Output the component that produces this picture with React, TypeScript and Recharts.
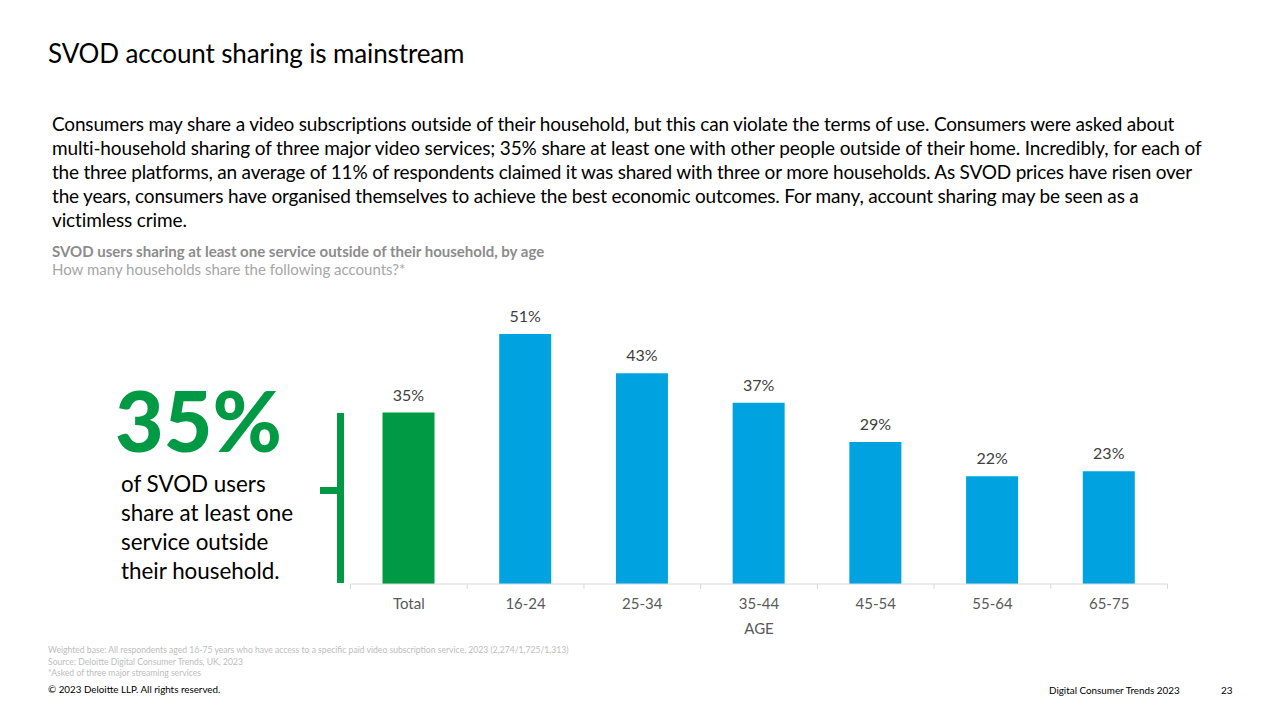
import React from "react";
import { BarChart, Bar, XAxis, YAxis, Cell, LabelList } from "recharts";

const categories = ["Total", "16-24", "25-34", "35-44", "45-54", "55-64", "65-75"];
const values = [35, 51, 43, 37, 29, 22, 23];
const barColors = ["#009A44", "#00A3E0", "#00A3E0", "#00A3E0", "#00A3E0", "#00A3E0", "#00A3E0"];
const rows = categories.map((age, i) => ({ age, share: values[i], fill: barColors[i] }));

const paragraphLines = [
  "Consumers may share a video subscriptions outside of their household, but this can violate the terms of use. Consumers were asked about",
  "multi-household sharing of three major video services; 35% share at least one with other people outside of their home. Incredibly, for each of",
  "the three platforms, an average of 11% of respondents claimed it was shared with three or more households. As SVOD prices have risen over",
  "the years, consumers have organised themselves to achieve the best economic outcomes. For many, account sharing may be seen as a",
  "victimless crime.",
];
const paragraphSpacing = [-0.17, -0.13, -0.2, -0.18, -0.13];
const calloutLines = ["of SVOD users", "share at least one", "service outside", "their household."];
const footLines = [
  "Weighted base: All respondents aged 16-75 years who have access to a specific paid video subscription service, 2023 (2,274/1,725/1,313)",
  "Source: Deloitte Digital Consumer Trends, UK, 2023",
  "*Asked of three major streaming services",
];

const FONT = "Lato, 'Noto Sans', sans-serif";
const CHART_LEFT = 350.5;
const CHART_RIGHT = 1167.5;
const BASELINE = 584;
const BAND = (CHART_RIGHT - CHART_LEFT) / categories.length;

function Txt({ x, y, size, color, children, weight, spacing }: any) {
  return (
    <div
      style={{
        position: "absolute",
        left: x,
        top: y,
        fontSize: size,
        lineHeight: `${Math.round(size * 1.2)}px`,
        color,
        fontWeight: weight ?? 400,
        letterSpacing: spacing ?? 0,
        whiteSpace: "nowrap",
        fontFamily: FONT,
      }}
    >
      {children}
    </div>
  );
}

function EdgeTick(props: any) {
  const { x, y, payload, index } = props;
  const left = x - BAND / 2;
  const isLast = index === categories.length - 1;
  return (
    <g>
      <line x1={left} x2={left} y1={y - 8} y2={y - 3} stroke="#D9D9D9" />
      {isLast && <line x1={left + BAND} x2={left + BAND} y1={y - 8} y2={y - 3} stroke="#D9D9D9" />}
      <text x={x} y={y + 17} textAnchor="middle" fontSize={15} fontFamily={FONT} fill="#595959">
        {payload.value}
      </text>
    </g>
  );
}

export default function App() {
  return (
    <div style={{ position: "absolute", left: 0, top: 0, width: 1280, height: 720, background: "#fff", overflow: "hidden" }}>
      <Txt x={48} y={38} size={26} color="#000" spacing={-0.13}>SVOD account sharing is mainstream</Txt>
      {paragraphLines.map((l, i) => (
        <Txt key={i} x={52} y={112 + i * 24} size={19} color="#000" spacing={paragraphSpacing[i]}>{l}</Txt>
      ))}
      <Txt x={52} y={242} size={15} color="#8C8C8C" weight={700}>SVOD users sharing at least one service outside of their household, by age</Txt>
      <Txt x={52} y={260} size={15} color="#A6A6A6">How many households share the following accounts?*</Txt>

      <Txt x={115} y={369} size={84} color="#009A44" weight={900}>35%</Txt>
      {calloutLines.map((l, i) => (
        <Txt key={i} x={121} y={469.5 + i * 29} size={22.4} color="#000">{l}</Txt>
      ))}

      <div style={{ position: "absolute", left: 337, top: 413, width: 7, height: 170, background: "#009A44" }} />
      <div style={{ position: "absolute", left: 320, top: 487, width: 18, height: 7, background: "#009A44" }} />

      <div style={{ position: "absolute", left: 0, top: 0 }}>
        <BarChart
          width={1280}
          height={720}
          data={rows}
          margin={{ top: 290, right: 1280 - CHART_RIGHT, bottom: 0, left: CHART_LEFT }}
          barCategoryGap="0%"
        >
          <YAxis hide domain={[0, 60]} />
          <XAxis
            dataKey="age"
            height={720 - BASELINE}
            interval={0}
            axisLine={{ stroke: "#D9D9D9" }}
            tickLine={false}
            tick={<EdgeTick />}
            label={{ value: "AGE", position: "insideTop", dy: 34, fontSize: 15, fontFamily: FONT, fill: "#595959" }}
          />
          <Bar dataKey="share" barSize={52} isAnimationActive={false}>
            {rows.map((r) => (
              <Cell key={r.age} fill={r.fill} />
            ))}
            <LabelList
              dataKey="share"
              position="top"
              offset={12}
              formatter={(v: any) => `${v}%`}
              style={{ fontSize: 16, fontFamily: FONT, fill: "#404040" }}
            />
          </Bar>
        </BarChart>
      </div>

      {footLines.map((l, i) => (
        <Txt key={i} x={48} y={645 + i * 11.5} size={8.6} color="#BDBDBD">{l}</Txt>
      ))}
      <Txt x={48} y={683} size={9.8} color="#000">© 2023 Deloitte LLP. All rights reserved.</Txt>
      <Txt x={1049} y={684} size={9.85} color="#000">Digital Consumer Trends 2023</Txt>
      <Txt x={1221} y={684} size={10} color="#000">23</Txt>
    </div>
  );
}
